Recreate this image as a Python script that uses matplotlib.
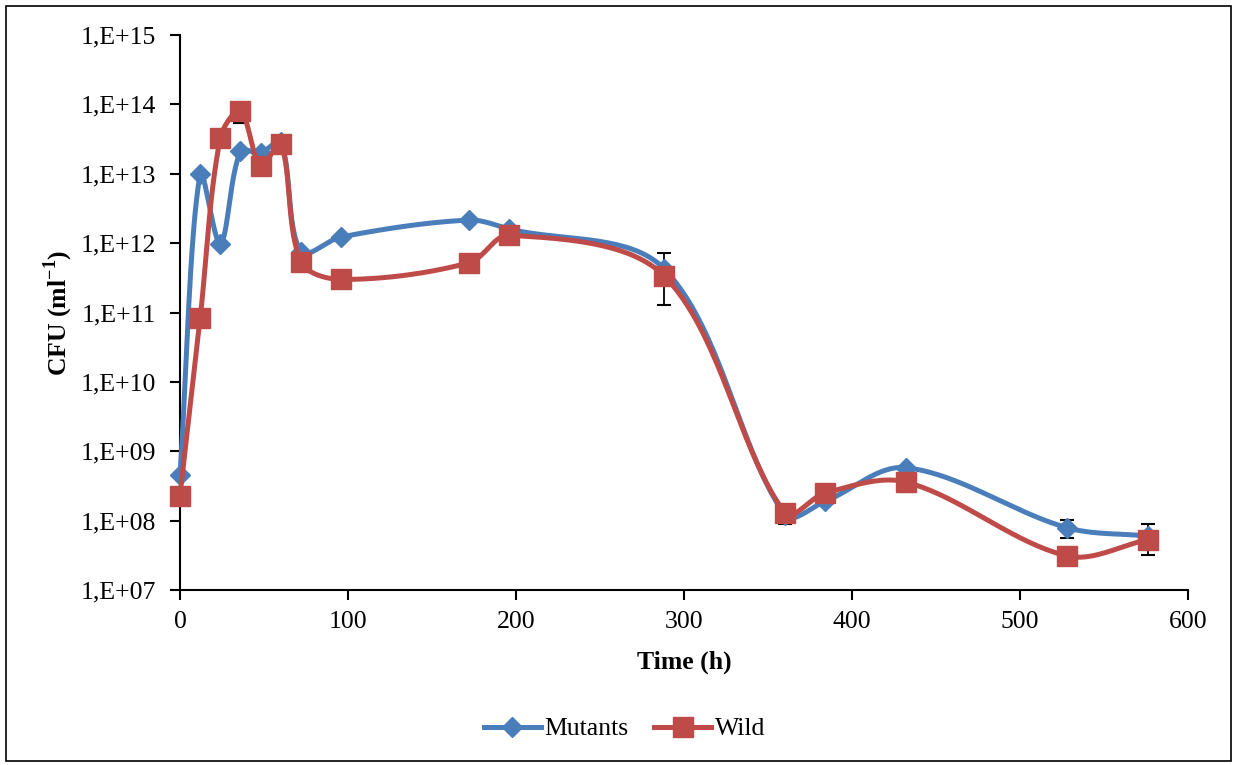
import numpy as np
import matplotlib
matplotlib.use("Agg")
import matplotlib.pyplot as plt
from matplotlib.ticker import FixedLocator, FuncFormatter
from matplotlib.lines import Line2D
from matplotlib.patches import Rectangle

plt.rcParams['font.family'] = ['Liberation Serif', 'DejaVu Serif']
plt.rcParams['mathtext.fontset'] = 'custom'
plt.rcParams['mathtext.rm'] = 'Liberation Serif'
plt.rcParams['mathtext.bf'] = 'Liberation Serif:bold'

# sampling times (h) and colony counts
time_h = [0, 12, 24, 36, 48, 60, 72, 96, 172, 196, 288, 360, 384, 432, 528, 576]
mutants = [4.6e8, 1.0e13, 9.8e11, 2.1e13, 2.0e13, 2.9e13, 7.5e11, 1.23e12,
           2.15e12, 1.6e12, 4.3e11, 1.2e8, 1.9e8, 5.8e8, 7.9e7, 6.0e7]
wild = [2.3e8, 8.3e10, 3.3e13, 8.0e13, 1.3e13, 2.7e13, 5.4e11, 3.0e11,
        5.2e11, 1.3e12, 3.4e11, 1.3e8, 2.5e8, 3.6e8, 3.1e7, 5.3e7]
mutants_err = [0, 0, 0, 0, 0, 0, 0, 0, 0, 0, 3.0e11, 0, 0, 0, 2.3e7, 2.8e7]
wild_err = [0, 0, 0, 2.6e13, 0, 0, 0, 0, 0, 0, 0, 4.0e7, 0, 1.0e8, 0, 0]

BLUE = '#4A7EBB'
RED = '#BE4B48'

# screen scale used for the smoothing: px per hour, px per decade
SX, SY = 1.68, 69.4


def smooth(x, y, n=40):
    """Bezier smoothing with chord-weighted tangents, built in screen units."""
    px = np.asarray(x, float) * SX
    py = np.log10(np.asarray(y, float)) * SY
    P = np.column_stack([px, py])
    m = len(P)
    d = np.hypot(*np.diff(P, axis=0).T)
    t = np.linspace(0, 1, n)[:, None]
    out = []
    for i in range(m - 1):
        p0, p3 = P[i], P[i + 1]
        if i > 0:
            T = P[i + 1] - P[i - 1]
            c1 = p0 + T * d[i] / (d[i - 1] + d[i]) / 3.0
        else:
            c1 = p0 + (p3 - p0) / 3.0
        if i + 2 < m:
            T = P[i + 2] - P[i]
            c2 = p3 - T * d[i] / (d[i] + d[i + 1]) / 3.0
        else:
            c2 = p3 - (p3 - p0) / 3.0
        b = (1 - t) ** 3 * p0 + 3 * (1 - t) ** 2 * t * c1 + 3 * (1 - t) * t ** 2 * c2 + t ** 3 * p3
        out.append(b)
    b = np.vstack(out)
    return b[:, 0] / SX, 10 ** (b[:, 1] / SY)


fig = plt.figure(figsize=(12.37, 7.65), dpi=100)
ax = fig.add_axes([180 / 1237, 1 - 590 / 765, (1188 - 180) / 1237, (590 - 35) / 765])

fig.patches.append(Rectangle((6 / 1237, 4 / 765), 1225 / 1237, 755 / 765,
                             transform=fig.transFigure, fill=False,
                             edgecolor='black', linewidth=1.2))

for vals, err in [(mutants, mutants_err), (wild, wild_err)]:
    idx = [i for i, e in enumerate(err) if e > 0]
    ax.errorbar([time_h[i] for i in idx], [vals[i] for i in idx],
                yerr=[err[i] for i in idx], fmt='none', ecolor='black',
                elinewidth=1.3, capsize=5, capthick=1.5, zorder=2)

sx, sy = smooth(time_h, mutants)
ax.plot(sx, sy, color=BLUE, lw=3.6, zorder=3, solid_capstyle='round', clip_on=False)
ax.plot(time_h, mutants, 'D', color=BLUE, ms=10.5, zorder=4, clip_on=False)
sx, sy = smooth(time_h, wild)
ax.plot(sx, sy, color=RED, lw=3.6, zorder=5, solid_capstyle='round', clip_on=False)
ax.plot(time_h, wild, 's', color=RED, ms=14, zorder=6, clip_on=False)

ax.set_yscale('log')
ax.set_ylim(1e7, 1e15)
ax.set_xlim(0, 600)
ax.yaxis.set_major_locator(FixedLocator([10.0 ** k for k in range(7, 16)]))
ax.yaxis.set_minor_locator(FixedLocator([]))
ax.yaxis.set_major_formatter(FuncFormatter(lambda v, p: "1,E+%02d" % round(np.log10(v))))
ax.set_xticks(range(0, 601, 100))

for s in ['top', 'right']:
    ax.spines[s].set_visible(False)
for s in ['left', 'bottom']:
    ax.spines[s].set_linewidth(1.5)
ax.tick_params(axis='both', direction='out', length=7, width=1.5,
               labelsize=18.5, colors='black')
ax.tick_params(axis='y', pad=10)
ax.tick_params(axis='x', pad=8)

ax.set_xlabel('Time (h)', fontsize=18.5, fontweight='bold', labelpad=13)
ax.set_ylabel(r'CFU (ml$^{\mathbf{-1}}$)', fontsize=18.5, fontweight='bold', labelpad=4)

handles = [Line2D([], [], color=BLUE, lw=3.6, marker='D', ms=10.5),
           Line2D([], [], color=RED, lw=3.6, marker='s', ms=14)]
fig.legend(handles, ['Mutants', 'Wild'], loc='center', ncol=2,
           bbox_to_anchor=(0.505, 1 - 729 / 765), frameon=False,
           fontsize=18.5, handlelength=2.2, handletextpad=0.15, columnspacing=1.0)

fig.savefig('out.png', dpi=100)
